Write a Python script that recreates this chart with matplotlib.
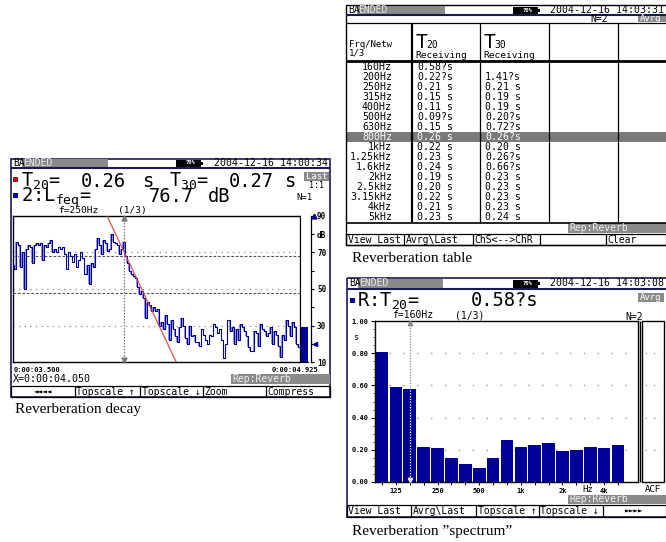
import numpy as np
import matplotlib
matplotlib.use('Agg')
import matplotlib.pyplot as plt
from matplotlib.patches import Rectangle

plt.rcParams['mathtext.fontset'] = 'custom'
plt.rcParams['mathtext.rm'] = 'DejaVu Sans Mono'
plt.rcParams['mathtext.it'] = 'DejaVu Sans Mono'
plt.rcParams['mathtext.default'] = 'rm'

# ---------------- data ----------------
decay_t0 = 3.50
decay_dt = 0.01
decay_levels = [63, 61, 76, 74, 62, 70, 50, 72, 74, 73, 64, 74, 75, 74, 75, 66, 74, 73, 75, 77,
                70, 72, 70, 73, 72, 73, 69, 61, 70, 68, 65, 69, 62, 66, 70, 67, 58, 63, 53, 64,
                62, 72, 78, 74, 69, 77, 75, 71, 72, 80, 76, 75, 74, 69, 72, 76, 68, 64, 60, 58,
                57, 56, 51, 47, 49, 45, 34, 43, 41, 38, 40, 38, 39, 30, 32, 28, 36, 31, 22, 33,
                28, 24, 21, 29, 34, 30, 23, 20, 30, 24, 25, 21, 21, 19, 28, 25, 22, 20, 25, 24,
                31, 29, 26, 28, 22, 12, 20, 33, 27, 29, 20, 28, 22, 31, 29, 27, 24, 18, 16, 16,
                27, 26, 19, 31, 28, 27, 24, 26, 29, 20, 27, 25, 19, 13, 25, 22, 33, 30, 24, 32,
                29, 20, 18]
decay_fit_start = (3.967, 90.0)     # regression line (T20) start point
decay_fit_slope = -233.0            # dB / s
eval_levels = [68, 48]              # T20 evaluation range (dashed)
grid_levels = [70, 50, 30]
level_bar = 29
cursor_time = 4.050
db_ticks = [10, 20, 30, 40, 50, 60, 70, 80, 90]
db_ticklabels = ['10', '', '30', '', '50', '', '70', 'dB', '90']

table_freqs = ['160Hz', '200Hz', '250Hz', '315Hz', '400Hz', '500Hz', '630Hz', '800Hz',
               '1kHz', '1.25kHz', '1.6kHz', '2kHz', '2.5kHz', '3.15kHz', '4kHz', '5kHz']
table_t20 = ['0.58?s', '0.22?s', '0.21 s', '0.15 s', '0.11 s', '0.09?s', '0.15 s', '0.26 s',
             '0.22 s', '0.23 s', '0.24 s', '0.19 s', '0.20 s', '0.22 s', '0.21 s', '0.23 s']
table_t30 = ['', '1.41?s', '0.21 s', '0.19 s', '0.19 s', '0.20?s', '0.72?s', '0.26?s',
             '0.20 s', '0.26?s', '0.66?s', '0.23 s', '0.23 s', '0.23 s', '0.23 s', '0.24 s']

spec_bands = ['100', '125', '160', '200', '250', '315', '400', '500', '630', '800',
              '1k', '1.25k', '1.6k', '2k', '2.5k', '3.15k', '4k', '5k']
spec_t20 = [0.81, 0.59, 0.58, 0.22, 0.21, 0.15, 0.11, 0.09, 0.15, 0.26,
            0.22, 0.23, 0.24, 0.19, 0.20, 0.22, 0.21, 0.23]
spec_labels = {'125': '125', '250': '250', '500': '500', '1k': '1k', '2k': '2k', '4k': '4k'}
spec_cursor = 2
spec_yticks = [0.0, 0.2, 0.4, 0.6, 0.8, 1.0]

# ---------------- helpers ----------------
W, H = 666, 542
fig = plt.figure(figsize=(W / 100, H / 100), dpi=100)
fig.patch.set_facecolor('white')
cv = fig.add_axes([0, 0, 1, 1])
cv.set_xlim(0, W)
cv.set_ylim(H, 0)
cv.axis('off')

MONO = ['DejaVu Sans Mono', 'DejaVu Sans']
SERIF = ['Liberation Serif', 'DejaVu Serif']
GRAY = '#8a8a8a'
NAVY = '#1a1a5a'
BLUE = '#000096'


def px_axes(x0, y0, x1, y1):
    return fig.add_axes([x0 / W, (H - y1) / H, (x1 - x0) / W, (y1 - y0) / H])


def T(x, y, s, size=7.0, ha='left', va='center', color='black', family=MONO, weight='normal', z=5):
    cv.text(x, y, s, fontsize=size, ha=ha, va=va, color=color, family=family,
            weight=weight, zorder=z)


def R(x0, y0, x1, y1, fc='none', ec='none', lw=0.8, z=2):
    cv.add_patch(Rectangle((x0, y0), x1 - x0, y1 - y0, facecolor=fc, edgecolor=ec,
                           lw=lw, zorder=z))


def L(xs, ys, color='black', lw=0.8, z=3, **kw):
    cv.plot(xs, ys, color=color, lw=lw, zorder=z, solid_capstyle='butt', **kw)


def title_bar(x0, x1, y0, y1, ended_x1, batt_x0, date):
    yc = (y0 + y1) / 2
    T(x0 + 2, yc, 'BA', size=7)
    R(x0 + 11, y0, ended_x1, y1, fc=GRAY)
    T(x0 + 12, yc, 'ENDED', size=7, color='#e8e8e8')
    R(batt_x0, y0 + 1, batt_x0 + 25, y1 - 0.5, fc='black')
    R(batt_x0 + 25, yc - 1.5, batt_x0 + 27, yc + 1.5, fc='black')
    T(batt_x0 + 15, yc, '70%', size=4, color='white', ha='center', weight='bold')
    T(x1 - 2, yc, date, size=7.1, ha='right')
    L([x0, x1], [y1 + 1, y1 + 1], color=NAVY, lw=1.5)


def buttons(edges, y0, y1, labels, center=()):
    R(edges[0], y0, edges[-1], y1, ec='black', lw=0.9)
    for e in edges[1:-1]:
        L([e, e], [y0, y1], lw=0.9)
    for i, lab in enumerate(labels):
        if i in center:
            T((edges[i] + edges[i + 1]) / 2, (y0 + y1) / 2 + 0.5, lab, size=5.5, ha='center')
        else:
            T(edges[i] + 1.5, (y0 + y1) / 2 + 0.5, lab, size=7)


# =============== LEFT PANEL: reverberation decay ===============
R(11, 158.5, 330, 397, ec=NAVY, lw=1.2)
title_bar(11, 330, 159, 167, 108, 176, '2004-12-16 14:00:34')

# big readout lines
R(13, 177, 18, 182, fc='#b01010')
T(21, 186.7, r'T$_{20}$=', size=13.5, va='baseline')
T(81, 186.7, '0.26', size=13.5, va='baseline')
T(142, 186.7, 's', size=13.5, va='baseline')
T(169, 186.7, r'T$_{30}$=', size=13.5, va='baseline')
T(229, 186.7, '0.27', size=13.5, va='baseline')
T(284, 186.7, 's', size=13.5, va='baseline')
R(304, 172, 329, 181, fc=GRAY)
T(316.5, 176.5, 'Last', size=6.5, ha='center', color='white')
T(316, 185.5, '1:1', size=6, ha='center')

R(13, 193, 18, 198, fc=BLUE)
T(21, 201.7, r'2:L$_{feq}$=', size=13.5, va='baseline')
T(149, 201.7, '76.7', size=13.5, va='baseline')
T(208, 201.7, 'dB', size=13.5, va='baseline')
T(304, 198, 'N=1', size=6.5, ha='center')
T(58, 210.5, 'f=250Hz', size=6.8)
T(118, 210.5, '(1/3)', size=6.8)

# decay axes
ax = px_axes(13, 216, 300, 362)
t = decay_t0 + decay_dt * np.arange(len(decay_levels))
lv = np.array(decay_levels, dtype=float)
lo = np.minimum(lv[:-1], lv[1:])
hi = np.maximum(lv[:-1], lv[1:])
ax.bar(t[1:] - decay_dt / 2, hi - lo, bottom=lo, width=decay_dt * 0.8, color='#9a9ae6',
       edgecolor='none', zorder=2)
ax.step(t, lv, where='mid', color=BLUE, lw=0.8, zorder=3)
fit_t = np.array([decay_fit_start[0], decay_fit_start[0] + 80 / -decay_fit_slope])
ax.plot(fit_t, decay_fit_start[1] + decay_fit_slope * (fit_t - decay_fit_start[0]),
        color='#d04a4a', lw=1.0, alpha=0.85, zorder=4)
for g in grid_levels:
    ax.axhline(g, color='#8a8a8a', lw=0.9, ls=(0, (1, 3.5)), zorder=1)
for g in eval_levels:
    ax.axhline(g, color='#555555', lw=0.8, ls=(0, (2.5, 1.5)), zorder=1)
ax.axvline(cursor_time, color='#777777', lw=0.9, ls=(0, (1.2, 1.2)), zorder=5)
ax.plot([cursor_time], [89.0], marker='^', ms=3.5, color='#777777', clip_on=False, zorder=6)
ax.plot([cursor_time], [11.0], marker='v', ms=3.5, color='#777777', clip_on=False, zorder=6)
ax.set_xlim(decay_t0, 4.925)
ax.set_ylim(10, 90)
ax.set_xticks([])
ax.set_yticks([])
for s in ax.spines.values():
    s.set_color('black')
    s.set_linewidth(1.0)
ax.spines['right'].set_color('#777777')

# level bar with dB scale
axl = px_axes(300, 216, 308, 362)
axl.bar([0], [level_bar - 10], bottom=10, width=1.0, color=BLUE)
axl.set_xlim(-0.5, 0.5)
axl.set_ylim(10, 90)
axl.set_xticks([])
axl.yaxis.tick_right()
axl.spines['right'].set_position(('outward', 2))
axl.spines['right'].set_linewidth(0.9)
axl.spines['left'].set_linewidth(0.8)
axl.spines['top'].set_visible(False)
axl.spines['bottom'].set_linewidth(0.8)
axl.set_yticks(db_ticks)
axl.set_yticklabels(db_ticklabels, family=MONO, fontsize=5.5, weight='bold')
axl.tick_params(axis='y', direction='out', length=2.5, width=0.8, pad=2)
axl.plot([1.25], [90], marker='^', ms=3.5, color=BLUE, clip_on=False)
axl.plot([1.4], [20], marker='<', ms=3, color=BLUE, clip_on=False)

T(14, 369.5, '0:00:03.500', size=5, weight='bold')
T(318, 369.5, '0:00:04.925', size=5, weight='bold', ha='right')
T(13, 379, 'X=0:00:04.050', size=7.2)
R(231, 374, 330, 384, fc=GRAY)
T(232, 379, 'Rep:Reverb', size=7, color='#f0f0f0')
buttons([11, 75, 140, 203, 266, 330], 386, 397,
        ['◄◄◄◄', 'Topscale ↑', 'Topscale ↓', 'Zoom', 'Compress'], center=(0,))
T(15, 409, 'Reverberation decay', size=11, family=SERIF)

# =============== TOP RIGHT: reverberation table ===============
tx0, tx1 = 346, 666
R(tx0, 5, tx1 + 2, 245, ec='black', lw=1.0)
title_bar(tx0, tx1, 6, 14, 445, 513, '2004-12-16 14:03:31')
T(590, 18.5, 'N=2', size=7)
R(638, 14.5, 666, 22, fc=GRAY)
T(640, 18.5, 'Avrg', size=6.5, color='white')
L([tx0, tx1], [22.5, 22.5], lw=0.9)
col_x = [412, 480, 549, 618]
for i, cx in enumerate(col_x):
    L([cx, cx], [22.5, 222], lw=1.6 if i == 0 else 0.9)
T(349, 44.5, 'Frq/Netw', size=6.5)
T(349, 53.5, '1/3', size=6.5)
for cx, sub in [(412, '20'), (480, '30')]:
    T(cx + 3, 48, 'T', size=14, va='baseline')
    T(cx + 14, 48, sub, size=7, va='baseline')
    T(cx + 3, 56, 'Receiving', size=6.8)
L([tx0, tx1], [60.5, 60.5], lw=2.0)
for i, (f, a, b) in enumerate(zip(table_freqs, table_t20, table_t30)):
    y = 67 + 10 * i
    c = 'black'
    if f == '800Hz':
        R(tx0, y - 5, tx1, y + 5, fc='#7a7a7a', z=1)
        c = 'white'
    T(392, y, f, size=7.1, ha='right', color=c)
    T(417, y, a, size=7.1, color=c)
    T(485, y, b, size=7.1, color=c)
L([tx0, tx1], [222.5, 222.5], lw=1.2)
R(568, 223, tx1, 232.5, fc=GRAY)
T(569, 228, 'Rep:Reverb', size=7, color='#f0f0f0')
buttons([tx0, 404, 473, 540, 606, tx1], 234, 245,
        ['View Last', 'Avrg\\Last', 'ChS<-->ChR', '', 'Clear'])
T(352, 258, 'Reverberation table', size=11, family=SERIF)

# =============== BOTTOM RIGHT: reverberation spectrum ===============
sx0, sx1 = 347, 666
R(sx0, 278, sx1 + 2, 517, ec=NAVY, lw=1.2)
title_bar(sx0, sx1, 279, 288, 443, 513, '2004-12-16 14:03:08')
R(350, 298, 355, 303, fc=BLUE)
T(357, 306.5, r'R:T$_{20}$=', size=13.5, va='baseline')
T(471, 306.5, '0.58?s', size=13.5, va='baseline')
R(638, 293, 664, 302, fc=GRAY)
T(651, 297.5, 'Avrg', size=6.5, ha='center', color='white')
T(392, 315, 'f=160Hz', size=7)
T(455, 315, '(1/3)', size=7)
T(625, 317, 'N=2', size=7)

axs = px_axes(375, 321, 638, 482)
xi = np.arange(len(spec_t20))
axs.bar(xi, spec_t20, width=0.915, color=BLUE, edgecolor='none', zorder=2)
for g in [0.2, 0.4, 0.6, 0.8]:
    axs.axhline(g, color='#9a9a9a', lw=1.0, ls=(0, (1, 9)), zorder=1)
cx = xi[spec_cursor]
axs.plot([cx, cx], [0, spec_t20[spec_cursor]], color='white', lw=0.9, ls=(0, (1, 1.2)), zorder=3)
axs.plot([cx, cx], [spec_t20[spec_cursor], 1.0], color='#888888', lw=0.9, ls=(0, (1, 1.2)), zorder=3)
axs.plot([cx], [0.985], marker='^', ms=3.2, color='#888888', zorder=4, clip_on=False)
axs.plot([cx], [0.015], marker='v', ms=3.2, color='white', zorder=4)
axs.set_xlim(-0.508, 18.44)
axs.set_ylim(0, 1.0)
axs.set_yticks(spec_yticks)
axs.set_yticklabels(['%.2f' % v for v in spec_yticks], family=MONO, fontsize=5, weight='bold')
axs.set_yticks(np.arange(0, 1.0001, 0.05), minor=True)
axs.tick_params(axis='y', which='major', direction='out', length=3, width=0.8, pad=1.5)
axs.tick_params(axis='y', which='minor', direction='out', length=1.5, width=0.6)
axs.set_xticks(xi)
axs.set_xticklabels([spec_labels.get(b, '') for b in spec_bands], family=MONO, fontsize=5,
                    weight='bold')
axs.tick_params(axis='x', direction='out', length=2, width=0.7, pad=2)
for s in axs.spines.values():
    s.set_linewidth(1.0)
axs.text(-0.075, 0.9, 's', transform=axs.get_yaxis_transform(), fontsize=6, family=MONO,
         ha='center', va='center')
T(588, 489, 'Hz', size=6.5, ha='center')
L([640, 640], [321, 482], lw=1.0)
R(641.5, 321, 664, 482, ec='black', lw=1.0)
for g in [0.2, 0.4, 0.6, 0.8]:
    yy = 482 - g * 161
    L([645, 662], [yy, yy], color='#9a9a9a', lw=1.0, ls=(0, (1, 5)))
T(652.5, 490, 'ACF', size=6.5, ha='center')
R(568, 494.5, sx1, 504, fc=GRAY)
T(569, 499.5, 'Rep:Reverb', size=7, color='#f0f0f0')
buttons([sx0, 411, 476, 539, 603, sx1], 505, 516.5,
        ['View Last', 'Avrg\\Last', 'Topscale ↑', 'Topscale ↓', '►►►►'], center=(4,))
T(352, 532, 'Reverberation \u201dspectrum\u201d', size=11, family=SERIF)

fig.savefig('out.png', dpi=100, facecolor='white')
